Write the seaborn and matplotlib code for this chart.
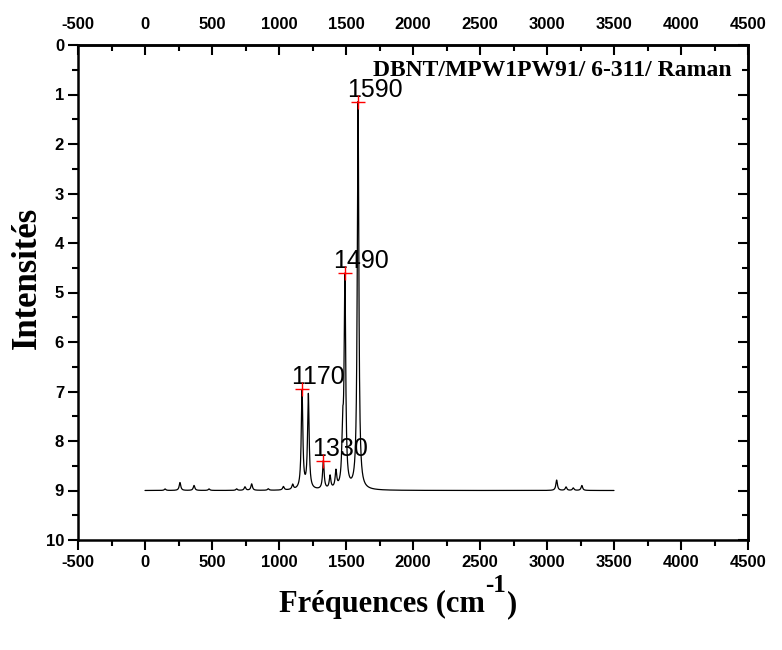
import numpy as np
import pandas as pd
import matplotlib
matplotlib.use("Agg")
import matplotlib.pyplot as plt
from matplotlib.ticker import MultipleLocator
import seaborn as sns

# ---- data ----
# Raman lines (cm-1) and their depth below the baseline (intensity units)
peak_pos = [150, 261, 366, 478, 684, 746, 796, 920, 1033, 1102,
            1172, 1219, 1331, 1381, 1425, 1475, 1492, 1590,
            3072, 3142, 3196, 3260]
peak_amp = [0.03, 0.16, 0.10, 0.03, 0.03, 0.07, 0.13, 0.03, 0.07, 0.10,
            1.98, 1.91, 0.57, 0.26, 0.34, 1.00, 4.20, 7.83,
            0.21, 0.07, 0.05, 0.10]
baseline = 9.0
line_width_cm = 7.0          # Lorentzian half width
freq_start, freq_end = 0, 3500

label_freq = [1170, 1330, 1490, 1590]
label_int = [6.95, 8.40, 4.60, 1.15]
label_text = ["1170", "1330", "1490", "1590"]

x_ticks = [-500, 0, 500, 1000, 1500, 2000, 2500, 3000, 3500, 4000, 4500]
y_ticks = [0, 1, 2, 3, 4, 5, 6, 7, 8, 9, 10]

title_text = "DBNT/MPW1PW91/ 6-311/ Raman"
xlabel_main = "Fréquences (cm"
xlabel_sup = "-1"
xlabel_end = ")"
ylabel_text = "Intensités"

# ---- spectrum (Lorentzian broadening of the lines) ----
freq = np.arange(freq_start, freq_end + 1, 1.0)
inten = np.full_like(freq, baseline)
for p, a in zip(peak_pos, peak_amp):
    inten -= a / (1.0 + ((freq - p) / line_width_cm) ** 2)
spec = pd.DataFrame({"freq": freq, "inten": inten})
labels = pd.DataFrame({"freq": label_freq, "inten": label_int, "txt": label_text})

sns.set_style("ticks")
plt.rcParams["font.family"] = ["Liberation Sans", "DejaVu Sans"]
plt.rcParams["axes.unicode_minus"] = False
for k in ["text.color", "axes.labelcolor", "xtick.color", "ytick.color",
          "axes.edgecolor"]:
    plt.rcParams[k] = "black"

fig = plt.figure(figsize=(7.82, 6.5), dpi=100)
ax = fig.add_axes([78 / 782, 1 - 540 / 650, 670 / 782, 495 / 650])

sns.lineplot(data=spec, x="freq", y="inten", ax=ax, color="black",
             linewidth=0.9, estimator=None, sort=False)
sns.scatterplot(data=labels, x="freq", y="inten", ax=ax, marker="+",
                color="#ff0000", s=90, linewidth=1.0, zorder=5)
for _, r in labels.iterrows():
    ax.annotate(r["txt"], xy=(r["freq"], r["inten"]), xytext=(-8, 3.4),
                textcoords="offset points", ha="left", va="baseline",
                fontsize=18, color="black", family="Liberation Sans")

ax.set_xlim(-500, 4500)
ax.set_ylim(10, 0)
ax.set_xticks(x_ticks)
ax.set_yticks(y_ticks)
ax.xaxis.set_minor_locator(MultipleLocator(250))
ax.yaxis.set_minor_locator(MultipleLocator(0.5))
for s in ax.spines.values():
    s.set_visible(True)
    s.set_linewidth(1.8)
    s.set_color("black")
ax.tick_params(which="major", direction="out", length=7, width=1.5,
               labelsize=12, top=False, right=False, color="black",
               labelcolor="black")
ax.tick_params(which="minor", direction="out", length=4.3, width=1.5,
               top=False, right=False, color="black")
ax.tick_params(axis="x", which="major", pad=4)
ax.tick_params(axis="y", which="major", pad=3)
for lab in ax.get_xticklabels() + ax.get_yticklabels():
    lab.set_fontweight("bold")

# top axis (labels, inward ticks) and right axis (inward ticks)
top = ax.secondary_xaxis("top")
top.set_xticks(x_ticks)
top.xaxis.set_minor_locator(MultipleLocator(250))
top.tick_params(which="major", direction="in", length=7, width=1.5,
                labelsize=12, pad=9, color="black", labelcolor="black")
top.tick_params(which="minor", direction="in", length=4.3, width=1.5,
                color="black")
top.spines["top"].set_linewidth(1.8)
for lab in top.get_xticklabels():
    lab.set_fontweight("bold")

right = ax.secondary_yaxis("right")
right.set_yticks(y_ticks)
right.yaxis.set_minor_locator(MultipleLocator(0.5))
right.tick_params(which="major", direction="in", length=7, width=1.5,
                  labelright=False, color="black")
right.tick_params(which="minor", direction="in", length=4.3, width=1.5,
                  color="black")
right.spines["right"].set_linewidth(1.8)

ax.text(0.975, 0.938, title_text, transform=ax.transAxes, ha="right",
        va="baseline", fontsize=17, fontweight="bold",
        family="Liberation Serif")

ax.set_xlabel("")
ax.set_ylabel(ylabel_text, fontsize=25, fontweight="bold",
              family="Liberation Serif")
ax.yaxis.set_label_coords(-0.051, 0.529)

# x label with a real superscript "-1" (hyphen, bold serif)
fig.canvas.draw()
renderer = fig.canvas.get_renderer()
xl_kw = dict(fontweight="bold", family="Liberation Serif", color="black")
base_y = 1 - 612 / 650
t1 = fig.text(0.5, base_y, xlabel_main, fontsize=22, ha="left",
              va="baseline", **xl_kw)
t2 = fig.text(0.5, base_y, xlabel_sup, fontsize=18, ha="left",
              va="baseline", **xl_kw)
t3 = fig.text(0.5, base_y, xlabel_end, fontsize=22, ha="left",
              va="baseline", **xl_kw)
w1 = t1.get_window_extent(renderer).width / 782
w2 = t2.get_window_extent(renderer).width / 782
w3 = t3.get_window_extent(renderer).width / 782
total = w1 + w2 + w3
x0 = 397 / 782 - total / 2
t1.set_x(x0)
t2.set_x(x0 + w1 + 1 / 782)
t2.set_y(base_y + 20 / 650)
t3.set_x(x0 + w1 + w2 + 2 / 782)

fig.savefig("out.png", dpi=100)
